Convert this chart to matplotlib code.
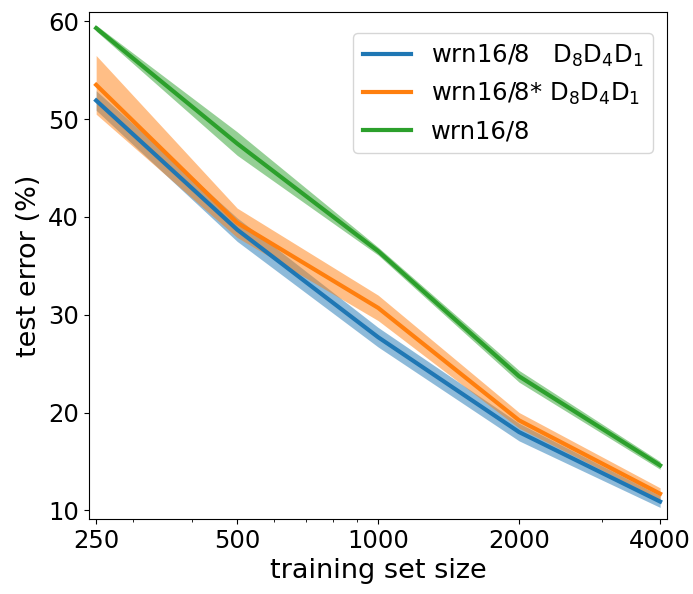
import matplotlib
matplotlib.use("Agg")
import matplotlib.pyplot as plt
from matplotlib.ticker import NullFormatter

plt.rcParams['font.size'] = 17.5
plt.rcParams['axes.labelsize'] = 19.5

sizes = [250, 500, 1000, 2000, 4000]
size_labels = ["250", "500", "1000", "2000", "4000"]

# mean test error and spread (half width of band) per model
err_d8 = [51.9, 38.7, 27.7, 18.0, 10.9]
std_d8 = [1.0, 1.2, 1.0, 0.9, 0.6]
err_d8_star = [53.5, 39.4, 30.7, 19.2, 11.7]
std_d8_star = [3.0, 1.5, 1.3, 0.8, 0.6]
err_base = [59.3, 47.5, 36.5, 23.7, 14.6]
std_base = [0.3, 1.2, 0.4, 0.6, 0.4]

labels = [r"wrn16/8   $\mathrm{D_8D_4D_1}$",
          r"wrn16/8* $\mathrm{D_8D_4D_1}$",
          "wrn16/8"]
colors = ["tab:blue", "tab:orange", "tab:green"]

fig = plt.figure(figsize=(6.93, 5.94), dpi=100)
ax = fig.add_axes([0.128, 0.126, 0.835, 0.853])

for mean, std, lab, c in zip([err_d8, err_d8_star, err_base],
                             [std_d8, std_d8_star, std_base], labels, colors):
    lo = [m - s for m, s in zip(mean, std)]
    hi = [m + s for m, s in zip(mean, std)]
    ax.fill_between(sizes, lo, hi, color=c, alpha=0.5, linewidth=0)
    ax.plot(sizes, mean, color=c, linewidth=3, label=lab)

ax.set_xscale("log")
ax.set_xticks(sizes)
ax.set_xticklabels(size_labels)
ax.xaxis.set_minor_formatter(NullFormatter())
ax.set_xlim(241, 4145)
ax.set_ylim(9.1, 60.9)
ax.set_yticks([10, 20, 30, 40, 50, 60])

ax.set_xlabel("training set size")
ax.set_ylabel("test error (%)")
ax.legend(loc="upper right", bbox_to_anchor=(0.975, 0.96), borderaxespad=0)

fig.savefig("out.png", dpi=100)
